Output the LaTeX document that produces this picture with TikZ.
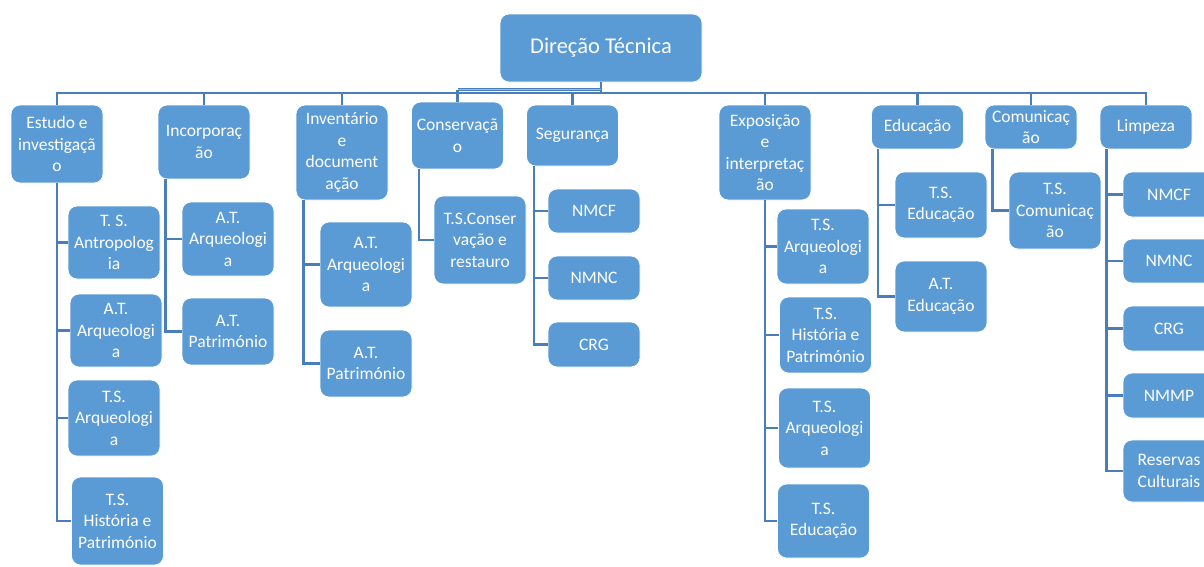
\documentclass[tikz,border=0pt]{standalone}
\usepackage{fontspec}
\setmainfont{Carlito}
\usetikzlibrary{positioning}
\usetikzlibrary{calc}
\definecolor{boxblue}{HTML}{5B9BD5}
\definecolor{lineblue}{HTML}{4A7EBB}
\definecolor{paleblue}{HTML}{9CBDE2}

\begin{document}
\begin{tikzpicture}[x=1pt, y=-1pt,
    unit/.style={rounded corners=9pt, fill=boxblue, draw=white, line width=0.8pt,
      text=white, align=center, minimum width=92pt, inner sep=1pt,
      font=\fontsize{17.5}{21.5}\selectfont},
    link/.style={draw=lineblue, line width=2.5pt},
    twinlink/.style={draw=lineblue, line width=1pt, double=paleblue, double distance=1.8pt}]
  \useasboundingbox (0,0) rectangle (1204,566);

  \node[unit, minimum width=202pt, minimum height=68pt, font=\fontsize{22.5}{26}\selectfont]
    (root) at (601,48) {Direção Técnica};

  % first level
  \node[unit, minimum height=78pt] (estudo)  at (57,144)    {Estudo e\\investigaçã\\o};
  \node[unit, minimum height=74pt] (incorp)  at (204,142)   {Incorporaç\\ão};
  \node[unit, minimum height=95pt] (invent)  at (342,152.5) {Inventário\\e\\document\\ação};
  \node[unit, minimum height=67pt] (conserv) at (457.5,135.5) {Conservaçã\\o};
  \node[unit, minimum height=61pt] (segur)   at (572.5,135.5) {Segurança};
  \node[unit, minimum height=95pt] (expos)   at (765,152.5) {Exposição\\e\\interpretaç\\ão};
  \node[unit, minimum height=44pt] (educ)    at (917.5,127) {Educação};
  \node[unit, minimum height=44pt] (comun)   at (1031,127)  {Comunicaç\\ão};
  \node[unit, minimum height=44pt] (limpeza) at (1146,127)  {Limpeza};

  % second level
  \node[unit, minimum height=73pt] (estA) at (114,242.5) {T. S.\\Antropolog\\ia};
  \node[unit, minimum height=73pt] (estB) at (116,330.5) {A.T.\\Arqueologi\\a};
  \node[unit, minimum height=76pt] (estC) at (114,418)   {T.S.\\Arqueologi\\a};
  \node[unit, minimum height=88pt] (estD) at (117.5,521) {T.S.\\História e\\Património};

  \node[unit, minimum height=74pt] (incA) at (228,239)   {A.T.\\Arqueologi\\a};
  \node[unit, minimum height=67pt] (incB) at (228,331.5) {A.T.\\Património};

  \node[unit, minimum height=85pt] (invA) at (366,264.5) {A.T.\\Arqueologi\\a};
  \node[unit, minimum height=67pt] (invB) at (366,363.5) {A.T.\\Património};

  \node[unit, minimum height=88pt] (conA) at (480,240) {T.S.Conser\\vação e\\restauro};

  \node[unit, minimum height=44pt] (segA) at (594,211)   {NMCF};
  \node[unit, minimum height=44pt] (segB) at (594,278)   {NMNC};
  \node[unit, minimum height=45pt] (segC) at (594,344.5) {CRG};

  \node[unit, minimum height=75pt] (expA) at (823,246.5) {T.S.\\Arqueologi\\a};
  \node[unit, minimum height=76pt] (expB) at (825.5,335) {T.S.\\História e\\Património};
  \node[unit, minimum height=80pt] (expC) at (824.5,428) {T.S.\\Arqueologi\\a};
  \node[unit, minimum height=74pt] (expD) at (823.5,521) {T.S.\\Educação};

  \node[unit, minimum height=66pt] (eduA) at (941,205)   {T.S.\\Educação};
  \node[unit, minimum height=71pt] (eduB) at (941,296.5) {A.T.\\Educação};

  \node[unit, minimum height=77pt] (comA) at (1055,210.5) {T.S.\\Comunicaç\\ão};

  \node[unit, minimum height=45pt] (limA) at (1169,194.5) {NMCF};
  \node[unit, minimum height=44pt] (limB) at (1169,261)   {NMNC};
  \node[unit, minimum height=45pt] (limC) at (1169,328.5) {CRG};
  \node[unit, minimum height=45pt] (limD) at (1169,395.5) {NMMP};
  \node[unit, minimum height=62pt] (limE) at (1169,471)   {Reservas\\Culturais};

  % bus under the root
  \coordinate (bus) at (0,93);
  \coordinate (cbend) at (457.5,89.5);
  \draw[link] (root.south) -- (root.south |- bus);
  \draw[link] (estudo.north) |- (bus -| limpeza.north) -- (limpeza.north);
  \foreach \n in {incorp, invent, segur, expos, educ, comun}
    \draw[link] (\n.north) -- (\n.north |- bus);
  \draw[twinlink] (cbend) -- (cbend -| root.south);
  \draw[link] (cbend) -- (conserv.north);

  % branches
  \foreach \c in {estA, estB, estC, estD}
    \draw[link] (estudo.south) |- (\c.west);
  \foreach \c in {incA, incB}
    \draw[link] ([xshift=8pt]incorp.south west) |- (\c.west);
  \foreach \c in {invA, invB}
    \draw[link] ([xshift=8pt]invent.south west) |- (\c.west);
  \draw[link] ([xshift=8pt]conserv.south west) |- (conA.west);
  \foreach \c in {segA, segB, segC}
    \draw[link] ([xshift=8pt]segur.south west) |- (\c.west);
  \foreach \c in {expA, expB, expC, expD}
    \draw[link] (expos.south) |- (\c.west);
  \foreach \c in {eduA, eduB}
    \draw[link] ([xshift=7pt]educ.south west) |- (\c.west);
  \draw[link] ([xshift=8pt]comun.south west) |- (comA.west);
  \foreach \c in {limA, limB, limC, limD, limE}
    \draw[link] ([xshift=7pt]limpeza.south west) |- (\c.west);
\end{tikzpicture}
\end{document}
